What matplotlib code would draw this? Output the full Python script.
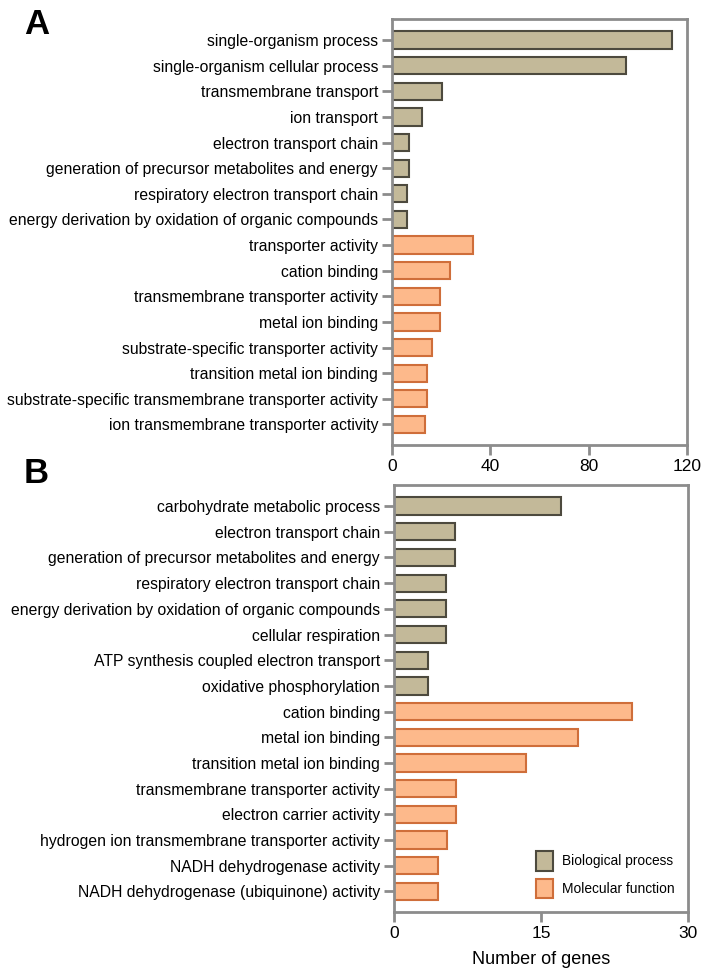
import numpy as np
import matplotlib
matplotlib.use('Agg')
import matplotlib.pyplot as plt
from matplotlib.patches import Patch

plt.rcParams['font.family'] = ['Liberation Sans', 'DejaVu Sans']

# panel A
terms_a = ['single-organism process', 'single-organism cellular process', 'transmembrane transport',
           'ion transport', 'electron transport chain', 'generation of precursor metabolites and energy',
           'respiratory electron transport chain', 'energy derivation by oxidation of organic compounds',
           'transporter activity', 'cation binding', 'transmembrane transporter activity',
           'metal ion binding', 'substrate-specific transporter activity', 'transition metal ion binding',
           'substrate-specific transmembrane transporter activity', 'ion transmembrane transporter activity']
counts_a = [114, 95, 20.3, 12.3, 7, 7, 6.1, 6.1, 33, 23.6, 19.5, 19.5, 16.3, 14.2, 14.2, 13.3]
groups_a = ['BP'] * 8 + ['MF'] * 8
ticks_a = [0, 40, 80, 120]

# panel B
terms_b = ['carbohydrate metabolic process', 'electron transport chain',
           'generation of precursor metabolites and energy', 'respiratory electron transport chain',
           'energy derivation by oxidation of organic compounds', 'cellular respiration',
           'ATP synthesis coupled electron transport', 'oxidative phosphorylation',
           'cation binding', 'metal ion binding', 'transition metal ion binding',
           'transmembrane transporter activity', 'electron carrier activity',
           'hydrogen ion transmembrane transporter activity', 'NADH dehydrogenase activity',
           'NADH dehydrogenase (ubiquinone) activity']
counts_b = [17, 6.2, 6.2, 5.3, 5.3, 5.3, 3.5, 3.5, 24.3, 18.8, 13.5, 6.3, 6.3, 5.4, 4.5, 4.5]
groups_b = ['BP'] * 8 + ['MF'] * 8
ticks_b = [0, 15, 30]

fills = {'BP': '#c3b999', 'MF': '#fdb98b'}
edges = {'BP': '#4d4a3e', 'MF': '#cf6e3a'}
spine_col = '#8c8c8c'

fig = plt.figure(figsize=(7.13, 9.76), dpi=100)
W, H = 713, 976
ax_a = fig.add_axes([392 / W, 1 - 445 / H, (687 - 392) / W, (445 - 19) / H])
ax_b = fig.add_axes([394 / W, 1 - 912 / H, (688 - 394) / W, (912 - 485) / H])


def draw(ax, terms, counts, groups, ticks):
    y = np.arange(len(terms))
    ax.barh(y, counts, height=0.67,
            color=[fills[g] for g in groups],
            edgecolor=[edges[g] for g in groups], linewidth=1.5)
    ax.set_yticks(y)
    ax.set_yticklabels(terms, fontsize=11.3)
    ax.set_ylim(len(terms) - 0.2, -0.82)
    ax.set_xlim(ticks[0], ticks[-1])
    ax.set_xticks(ticks)
    ax.tick_params(axis='x', labelsize=12.5, length=7, width=2, color=spine_col, pad=3)
    ax.tick_params(axis='y', length=7, width=2, color=spine_col, pad=3)
    for s in ax.spines.values():
        s.set_color(spine_col)
        s.set_linewidth(2)


draw(ax_a, terms_a, counts_a, groups_a, ticks_a)
draw(ax_b, terms_b, counts_b, groups_b, ticks_b)
ax_b.set_xlabel('Number of genes', fontsize=13, labelpad=7)

handles = [Patch(facecolor=fills['BP'], edgecolor=edges['BP'], linewidth=1.5, label='Biological process'),
           Patch(facecolor=fills['MF'], edgecolor=edges['MF'], linewidth=1.5, label='Molecular function')]
ax_b.legend(handles=handles, loc='lower right', frameon=False, fontsize=9.9,
            handlelength=1.3, handleheight=1.8, handletextpad=0.6,
            borderaxespad=0.6, labelspacing=0.6)

fig.text(24 / W, 1 - 24 / H, 'A', fontsize=25, fontweight='bold', va='center')
fig.text(24 / W, 1 - 473 / H, 'B', fontsize=25, fontweight='bold', va='center')

fig.savefig('out.png', dpi=100)
